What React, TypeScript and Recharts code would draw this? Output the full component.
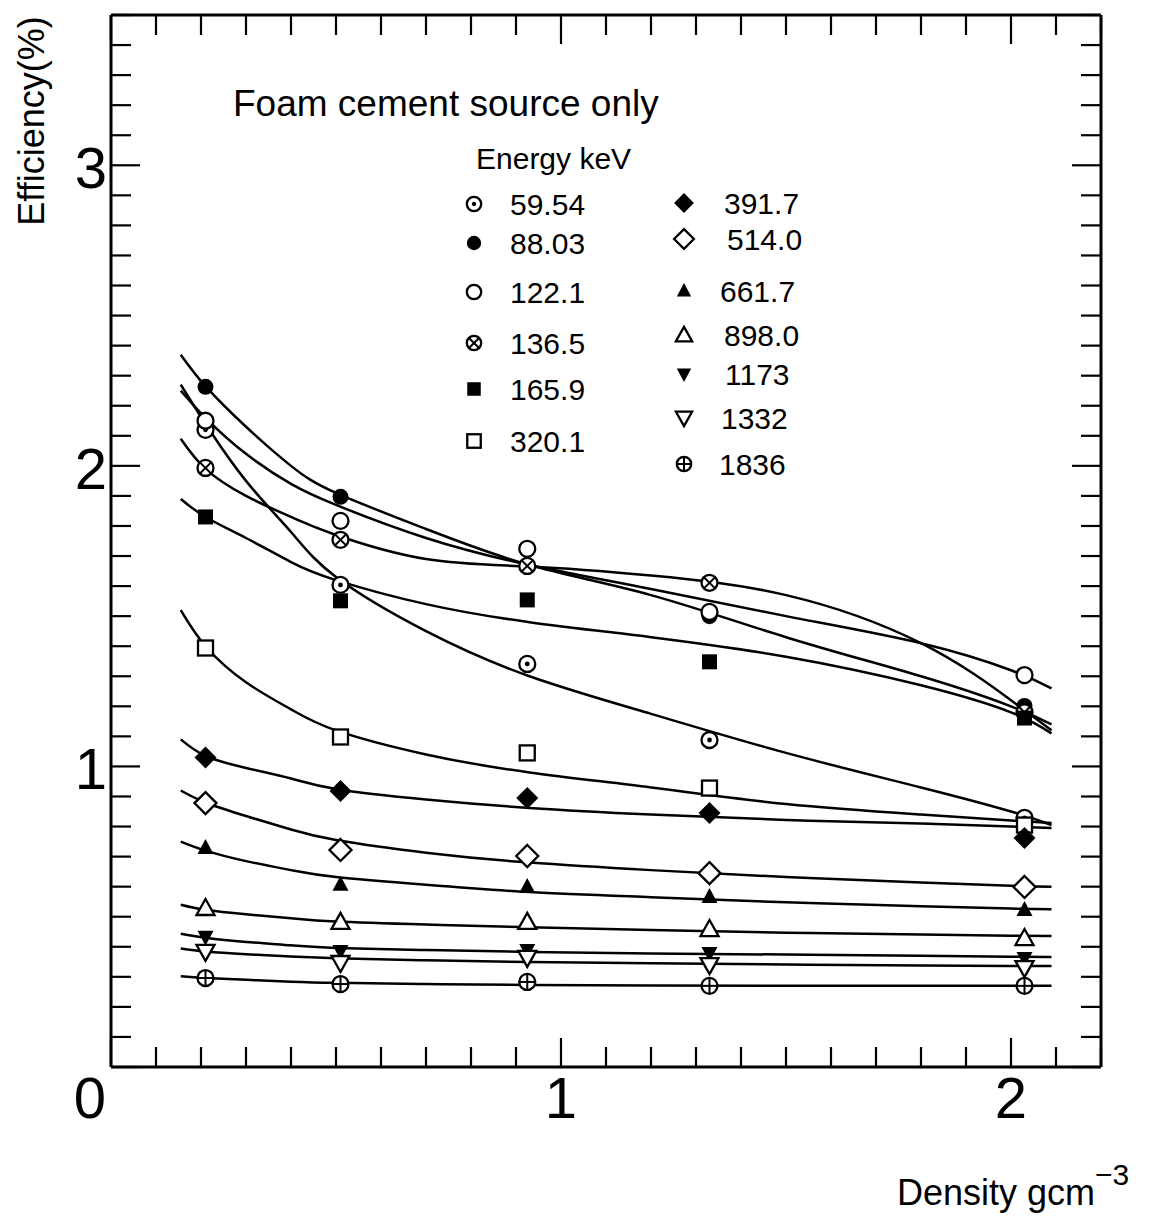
import React from 'react'
import {
  ComposedChart,
  Line,
  Scatter,
  XAxis,
  YAxis,
} from 'recharts'

// measured points (density g/cm3 -> efficiency %)
const densities = [0.21, 0.51, 0.925, 1.33, 2.03]

const eff5954 = [2.12, 1.604, 1.341, 1.088, 0.829]
const eff8803 = [2.263, 1.897, 1.667, 1.5, 1.201]
const eff1221 = [2.15, 1.817, 1.724, 1.514, 1.304]
const eff1365 = [1.993, 1.754, 1.667, 1.611, 1.18]
const eff1659 = [1.83, 1.551, 1.554, 1.348, 1.161]
const eff3201 = [1.394, 1.098, 1.045, 0.928, 0.805]
const eff3917 = [1.03, 0.918, 0.895, 0.845, 0.762]
const eff5140 = [0.878, 0.722, 0.702, 0.645, 0.599]
const eff6617 = [0.729, 0.606, 0.599, 0.566, 0.522]
const eff8980 = [0.529, 0.483, 0.483, 0.459, 0.429]
const eff1173 = [0.433, 0.386, 0.389, 0.379, 0.363]
const eff1332 = [0.383, 0.346, 0.363, 0.339, 0.329]
const eff1836 = [0.296, 0.276, 0.283, 0.27, 0.27]

// fitted curves
const fitDensities = [0.155, 0.21, 0.3, 0.4, 0.5, 0.7, 0.93, 1.2, 1.5, 1.8, 2.0, 2.09]

const fit5954 = [2.27, 2.14, 1.95, 1.78, 1.63, 1.45, 1.3, 1.175, 1.045, 0.93, 0.85, 0.805]
const fit8803 = [2.37, 2.265, 2.13, 2.0, 1.91, 1.79, 1.67, 1.57, 1.43, 1.3, 1.2, 1.14]
const fit1221 = [2.25, 2.16, 2.04, 1.94, 1.87, 1.76, 1.67, 1.59, 1.5, 1.41, 1.32, 1.26]
const fit1365 = [2.09, 1.99, 1.9, 1.83, 1.77, 1.69, 1.665, 1.635, 1.57, 1.41, 1.22, 1.12]
const fit1659 = [1.89, 1.83, 1.76, 1.68, 1.62, 1.54, 1.48, 1.43, 1.365, 1.27, 1.18, 1.11]
const fit3201 = [1.52, 1.4, 1.28, 1.19, 1.12, 1.04, 0.98, 0.93, 0.875, 0.84, 0.82, 0.812]
const fit3917 = [1.09, 1.035, 0.995, 0.96, 0.925, 0.89, 0.862, 0.84, 0.822, 0.81, 0.8, 0.795]
const fit5140 = [0.92, 0.88, 0.835, 0.79, 0.755, 0.713, 0.68, 0.655, 0.632, 0.614, 0.603, 0.6]
const fit6617 = [0.75, 0.72, 0.685, 0.655, 0.632, 0.606, 0.582, 0.565, 0.548, 0.535, 0.527, 0.525]
const fit8980 = [0.54, 0.523, 0.508, 0.495, 0.484, 0.474, 0.465, 0.456, 0.447, 0.441, 0.437, 0.436]
const fit1173 = [0.443, 0.43, 0.416, 0.405, 0.396, 0.389, 0.383, 0.378, 0.374, 0.37, 0.367, 0.366]
const fit1332 = [0.394, 0.384, 0.375, 0.368, 0.362, 0.355, 0.349, 0.345, 0.341, 0.338, 0.336, 0.336]
const fit1836 = [0.302, 0.296, 0.29, 0.284, 0.28, 0.276, 0.273, 0.271, 0.27, 0.27, 0.27, 0.27]

const xLabels = [0, 1, 2]
const yLabels = [1, 2, 3]

type MarkerKind =
  | 'dotCircle' | 'filledCircle' | 'openCircle' | 'crossCircle'
  | 'filledSquare' | 'openSquare' | 'filledDiamond' | 'openDiamond'
  | 'filledTri' | 'openTri' | 'filledInvTri' | 'openInvTri' | 'plusCircle'

const SERIES: { label: string; marker: MarkerKind; points: number[]; fit: number[] }[] = [
  { label: '59.54', marker: 'dotCircle', points: eff5954, fit: fit5954 },
  { label: '88.03', marker: 'filledCircle', points: eff8803, fit: fit8803 },
  { label: '122.1', marker: 'openCircle', points: eff1221, fit: fit1221 },
  { label: '136.5', marker: 'crossCircle', points: eff1365, fit: fit1365 },
  { label: '165.9', marker: 'filledSquare', points: eff1659, fit: fit1659 },
  { label: '320.1', marker: 'openSquare', points: eff3201, fit: fit3201 },
  { label: '391.7', marker: 'filledDiamond', points: eff3917, fit: fit3917 },
  { label: '514.0', marker: 'openDiamond', points: eff5140, fit: fit5140 },
  { label: '661.7', marker: 'filledTri', points: eff6617, fit: fit6617 },
  { label: '898.0', marker: 'openTri', points: eff8980, fit: fit8980 },
  { label: '1173', marker: 'filledInvTri', points: eff1173, fit: fit1173 },
  { label: '1332', marker: 'openInvTri', points: eff1332, fit: fit1332 },
  { label: '1836', marker: 'plusCircle', points: eff1836, fit: fit1836 },
]

const FONT = '"Liberation Sans", Arial, Helvetica, sans-serif'
const X_MAX = 2.2
const Y_MAX = 3.5
const xTicks = Array.from({ length: 23 }, (_, i) => +(i * 0.1).toFixed(1))
const yTicks = Array.from({ length: 36 }, (_, i) => +(i * 0.1).toFixed(1))

const isMajor = (v: number) => Math.abs(v - Math.round(v)) < 1e-6

function Marker({ kind, cx, cy, k = 1 }: { kind: MarkerKind; cx: number; cy: number; k?: number }) {
  const sw = 2.3
  const r = 8 * k
  const h = 7.5 * k
  const d = 11 * k
  switch (kind) {
    case 'dotCircle':
      return (
        <g>
          <circle cx={cx} cy={cy} r={r} fill="#fff" stroke="#000" strokeWidth={sw} />
          <circle cx={cx} cy={cy} r={2.4 * k} fill="#000" />
        </g>
      )
    case 'filledCircle':
      return <circle cx={cx} cy={cy} r={r} fill="#000" />
    case 'openCircle':
      return <circle cx={cx} cy={cy} r={r} fill="#fff" stroke="#000" strokeWidth={sw} />
    case 'crossCircle':
      return (
        <g>
          <circle cx={cx} cy={cy} r={r} fill="#fff" stroke="#000" strokeWidth={sw} />
          <line x1={cx - r * 0.7} y1={cy - r * 0.7} x2={cx + r * 0.7} y2={cy + r * 0.7} stroke="#000" strokeWidth={2} />
          <line x1={cx - r * 0.7} y1={cy + r * 0.7} x2={cx + r * 0.7} y2={cy - r * 0.7} stroke="#000" strokeWidth={2} />
        </g>
      )
    case 'plusCircle':
      return (
        <g>
          <circle cx={cx} cy={cy} r={r} fill="#fff" stroke="#000" strokeWidth={sw} />
          <line x1={cx - r} y1={cy} x2={cx + r} y2={cy} stroke="#000" strokeWidth={2} />
          <line x1={cx} y1={cy - r} x2={cx} y2={cy + r} stroke="#000" strokeWidth={2} />
        </g>
      )
    case 'filledSquare':
      return <rect x={cx - h} y={cy - h} width={2 * h} height={2 * h} fill="#000" />
    case 'openSquare':
      return <rect x={cx - h} y={cy - h} width={2 * h} height={2 * h} fill="#fff" stroke="#000" strokeWidth={sw} />
    case 'filledDiamond':
      return <polygon points={`${cx},${cy - d} ${cx + d},${cy} ${cx},${cy + d} ${cx - d},${cy}`} fill="#000" />
    case 'openDiamond':
      return (
        <polygon
          points={`${cx},${cy - d} ${cx + d},${cy} ${cx},${cy + d} ${cx - d},${cy}`}
          fill="#fff" stroke="#000" strokeWidth={sw}
        />
      )
    case 'filledTri':
      return <polygon points={`${cx},${cy - 9 * k} ${cx + 8 * k},${cy + 6 * k} ${cx - 8 * k},${cy + 6 * k}`} fill="#000" />
    case 'openTri':
      return (
        <polygon
          points={`${cx},${cy - 9 * k} ${cx + 9 * k},${cy + 7 * k} ${cx - 9 * k},${cy + 7 * k}`}
          fill="#fff" stroke="#000" strokeWidth={sw}
        />
      )
    case 'filledInvTri':
      return <polygon points={`${cx},${cy + 9 * k} ${cx + 8 * k},${cy - 6 * k} ${cx - 8 * k},${cy - 6 * k}`} fill="#000" />
    case 'openInvTri':
      return (
        <polygon
          points={`${cx},${cy + 9 * k} ${cx + 9 * k},${cy - 7 * k} ${cx - 9 * k},${cy - 7 * k}`}
          fill="#fff" stroke="#000" strokeWidth={sw}
        />
      )
  }
  return null
}

// inward ticks for the four sides of the frame
const BottomTick = (props: any) => {
  const { x, y, payload } = props
  const v = payload.value
  const major = isMajor(v)
  return (
    <g>
      <line x1={x} y1={y} x2={x} y2={y - (major ? 29 : 20)} stroke="#000" strokeWidth={2.2} />
      {major && xLabels.includes(Math.round(v)) && (
        <text x={x + (v === 0 ? -21 : 0)} y={y + 51} textAnchor="middle" fontSize={58} fontFamily={FONT} fill="#000">
          {Math.round(v)}
        </text>
      )}
    </g>
  )
}

const TopTick = (props: any) => {
  const { x, y, payload } = props
  const major = isMajor(payload.value)
  return <line x1={x} y1={y} x2={x} y2={y + (major ? 29 : 20)} stroke="#000" strokeWidth={2.2} />
}

const LeftTick = (props: any) => {
  const { x, y, payload } = props
  const v = payload.value
  const major = isMajor(v)
  return (
    <g>
      <line x1={x} y1={y} x2={x + (major ? 29 : 20)} y2={y} stroke="#000" strokeWidth={2.2} />
      {major && yLabels.includes(Math.round(v)) && (
        <text x={x - 20} y={y + 23} textAnchor="middle" fontSize={58} fontFamily={FONT} fill="#000">
          {Math.round(v)}
        </text>
      )}
    </g>
  )
}

const RightTick = (props: any) => {
  const { x, y, payload } = props
  const major = isMajor(payload.value)
  return <line x1={x} y1={y} x2={x - (major ? 29 : 20)} y2={y} stroke="#000" strokeWidth={2.2} />
}

const legendLeft = [204, 243, 292, 343, 389, 441]
const legendRight = [203, 239, 291, 335, 374, 418, 464]
const legendRightTextX = [724, 727, 720, 724, 725, 721, 719]

function Overlay() {
  return (
    <svg width={1157} height={1216} style={{ position: 'absolute', left: 0, top: 0, pointerEvents: 'none' }}>
      <g fontFamily={FONT} fill="#000">
        <text x={233} y={116} fontSize={37}>Foam cement source only</text>
        <text x={476} y={169} fontSize={30}>Energy keV</text>
        {SERIES.slice(0, 6).map((s, i) => (
          <g key={s.label}>
            <Marker kind={s.marker} cx={474} cy={legendLeft[i]} k={0.9} />
            <text x={510} y={legendLeft[i] + 11} fontSize={30}>{s.label}</text>
          </g>
        ))}
        {SERIES.slice(6).map((s, i) => (
          <g key={s.label}>
            <Marker kind={s.marker} cx={684} cy={legendRight[i]} k={0.9} />
            <text x={legendRightTextX[i]} y={legendRight[i] + 11} fontSize={30}>{s.label}</text>
          </g>
        ))}
        <text transform="translate(44,121) rotate(-90)" textAnchor="middle" fontSize={36}>Efficiency(%)</text>
        <text x={897} y={1205} fontSize={36}>
          Density gcm<tspan dy={-20} fontSize={30}>−3</tspan>
        </text>
      </g>
    </svg>
  )
}

const axisLine = { stroke: '#000', strokeWidth: 3 }

export default function App() {
  return (
    <div style={{ position: 'absolute', left: 0, top: 0, width: 1157, height: 1216, background: '#fff' }}>
      <ComposedChart width={1157} height={1216} margin={{ top: 14, right: 55, bottom: 148, left: 110 }}>
        <XAxis
          dataKey="x" type="number" domain={[0, X_MAX]} ticks={xTicks} interval={0}
          allowDataOverflow height={1} tickSize={0} tickMargin={0} tickLine={false}
          axisLine={axisLine} tick={BottomTick}
        />
        <XAxis
          xAxisId="top" orientation="top" dataKey="x" type="number" domain={[0, X_MAX]} ticks={xTicks} interval={0}
          allowDataOverflow height={1} tickSize={0} tickMargin={0} tickLine={false}
          axisLine={axisLine} tick={TopTick}
        />
        <YAxis
          type="number" domain={[0, Y_MAX]} ticks={yTicks} interval={0}
          allowDataOverflow width={1} tickSize={0} tickMargin={0} tickLine={false}
          axisLine={axisLine} tick={LeftTick}
        />
        <YAxis
          yAxisId="right" orientation="right" type="number" domain={[0, Y_MAX]} ticks={yTicks} interval={0}
          allowDataOverflow width={1} tickSize={0} tickMargin={0} tickLine={false}
          axisLine={axisLine} tick={RightTick}
        />
        {SERIES.map(s => (
          <Line
            key={'fit' + s.label}
            data={fitDensities.map((d, i) => ({ x: d, y: s.fit[i] }))}
            dataKey="y"
            type="natural"
            stroke="#000"
            strokeWidth={2.5}
            dot={false}
            activeDot={false}
            isAnimationActive={false}
          />
        ))}
        {SERIES.map(s => (
          <Scatter
            key={'pts' + s.label}
            data={densities.map((d, i) => ({ x: d, y: s.points[i] }))}
            dataKey="y"
            shape={(p: any) => <Marker kind={s.marker} cx={p.cx} cy={p.cy} />}
            isAnimationActive={false}
          />
        ))}
      </ComposedChart>
      <Overlay />
    </div>
  )
}
